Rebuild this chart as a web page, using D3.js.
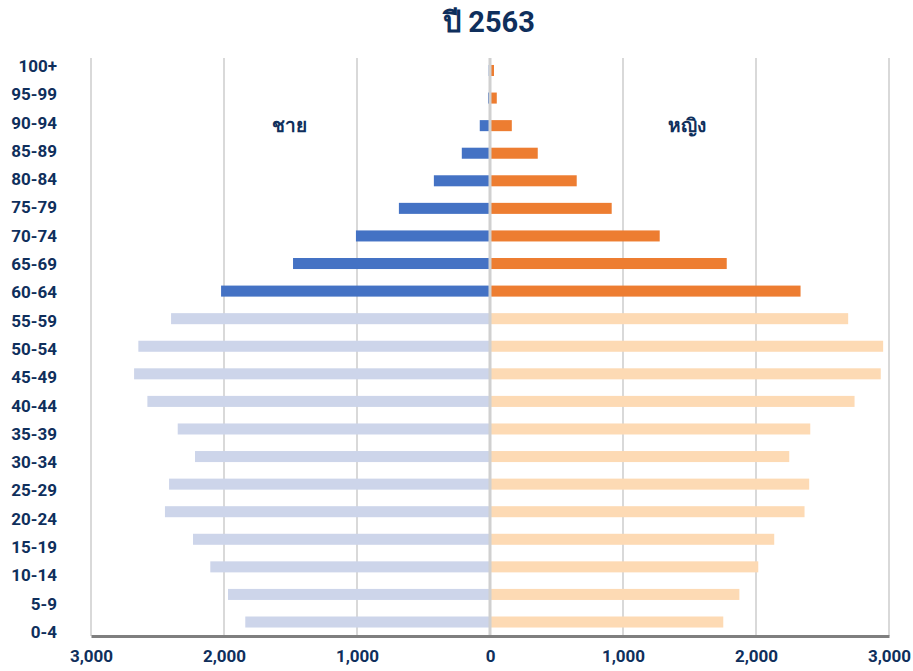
<!DOCTYPE html>
<html>
<head>
<meta charset="utf-8">
<script src="https://cdn.jsdelivr.net/npm/d3@7"></script>
<style>
  body { margin: 0; background: #fff; }
  text { font-family: Roboto, "Noto Sans", sans-serif; font-weight: 700; fill: #0f2f5c; }
</style>
</head>
<body>
<svg id="chart" width="913" height="671"></svg>
<script>
// age groups, top to bottom
var ageGroups = ["100+", "95-99", "90-94", "85-89", "80-84", "75-79", "70-74", "65-69", "60-64",
    "55-59", "50-54", "45-49", "40-44", "35-39", "30-34", "25-29", "20-24", "15-19", "10-14", "5-9", "0-4"];
var male = [10, 15, 77, 212, 422, 685, 1008, 1481, 2022,
    2398, 2644, 2676, 2576, 2348, 2218, 2413, 2444, 2233, 2103, 1970, 1840];
var female = [30, 51, 164, 359, 652, 915, 1276, 1780, 2335,
    2693, 2956, 2938, 2741, 2408, 2250, 2400, 2365, 2137, 2017, 1875, 1754];
var xTicks = [-3000, -2000, -1000, 0, 1000, 2000, 3000];
var elderlyFrom = 60; // groups 60+ drawn in full colour

var svg = d3.select("#chart");

var x = d3.scaleLinear().domain([-3000, 3000]).range([91, 889]);
var y = d3.scaleBand().domain(ageGroups).range([56.7, 635.8]).paddingInner(0.6).paddingOuter(0.3);
var yLabel = d3.scalePoint().domain(ageGroups).range([66, 632]);

function isOld(g) { return parseInt(g) >= elderlyFrom; }

// title
svg.append("text")
    .attr("x", 489).attr("y", 32)
    .attr("text-anchor", "middle")
    .style("font-size", "29px")
    .text("ปี 2563");

// gridlines
svg.append("g").selectAll("line")
    .data(xTicks.filter(function (d) { return d !== 0; }))
    .enter().append("line")
    .attr("x1", function (d) { return x(d); })
    .attr("x2", function (d) { return x(d); })
    .attr("y1", 58).attr("y2", 636)
    .attr("stroke", "#d9d9d9")
    .attr("stroke-width", 2);

// male bars
svg.append("g").selectAll("rect")
    .data(ageGroups)
    .enter().append("rect")
    .attr("x", function (d, i) { return x(-male[i]); })
    .attr("width", function (d, i) { return x(0) - x(-male[i]); })
    .attr("y", function (d) { return y(d); })
    .attr("height", y.bandwidth())
    .attr("fill", function (d) { return isOld(d) ? "#4472c4" : "#cdd5ea"; });

// female bars
svg.append("g").selectAll("rect")
    .data(ageGroups)
    .enter().append("rect")
    .attr("x", x(0))
    .attr("width", function (d, i) { return x(female[i]) - x(0); })
    .attr("y", function (d) { return y(d); })
    .attr("height", y.bandwidth())
    .attr("fill", function (d) { return isOld(d) ? "#ed7d31" : "#fddab4"; });

// zero line
svg.append("line")
    .attr("x1", x(0)).attr("x2", x(0))
    .attr("y1", 58).attr("y2", 636)
    .attr("stroke", "#d0d0d0")
    .attr("stroke-width", 3);

// bottom axis
var xAxis = d3.axisBottom(x)
    .tickValues(xTicks)
    .tickSize(0)
    .tickPadding(14)
    .tickFormat(function (d) { return d3.format(",")(Math.abs(d)); });

var gx = svg.append("g")
    .attr("transform", "translate(0,636)")
    .call(xAxis);
gx.select(".domain").attr("stroke", "#7f7f7f").attr("stroke-width", 3);
gx.selectAll("text").style("font-size", "17px").attr("fill", "#0f2f5c");

// age labels
svg.append("g").selectAll("text")
    .data(ageGroups)
    .enter().append("text")
    .attr("x", 57)
    .attr("y", function (d) { return yLabel(d); })
    .attr("dy", "0.35em")
    .attr("text-anchor", "end")
    .style("font-size", "17px")
    .text(function (d) { return d; });

// sex labels
svg.append("text").attr("x", 289).attr("y", 125).attr("dy", "0.35em")
    .attr("text-anchor", "middle").style("font-size", "19px").text("ชาย");
svg.append("text").attr("x", 687).attr("y", 125).attr("dy", "0.35em")
    .attr("text-anchor", "middle").style("font-size", "19px").text("หญิง");
</script>
</body>
</html>
